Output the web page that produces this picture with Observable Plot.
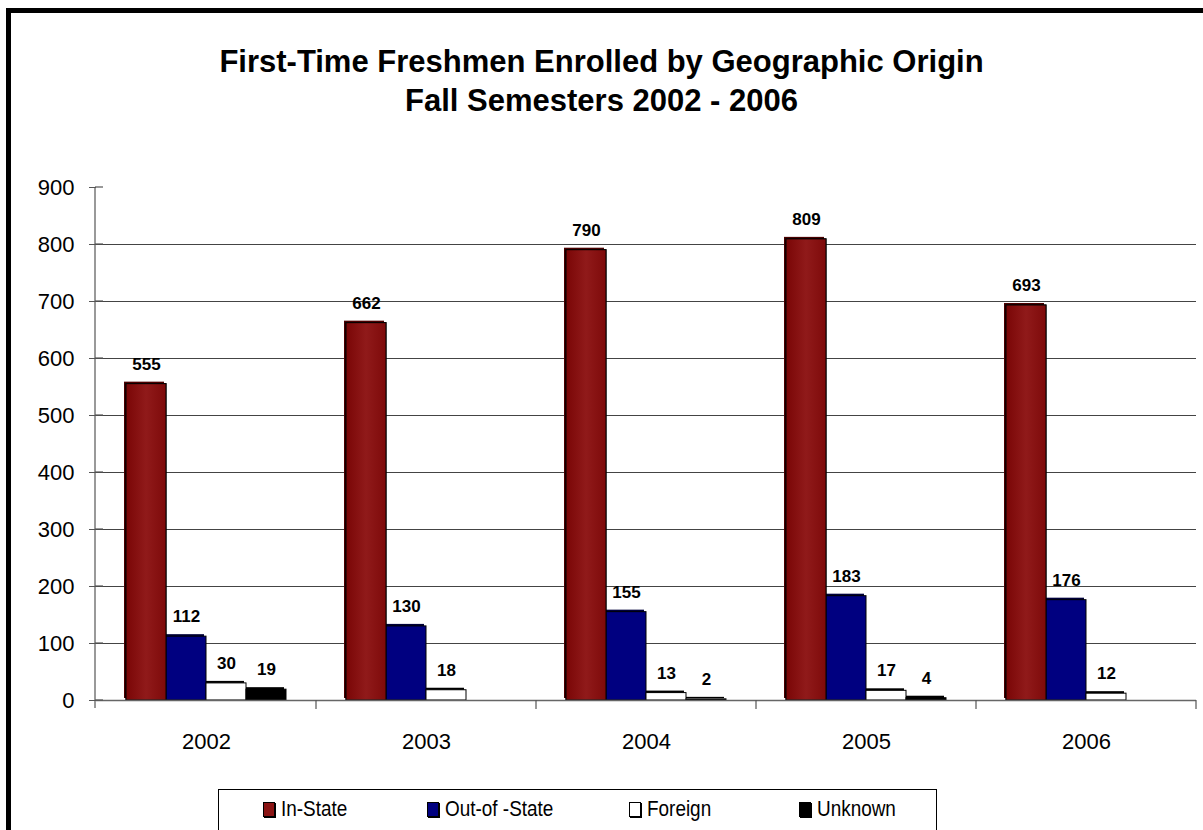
<!DOCTYPE html>
<html><head><meta charset="utf-8">
<script src="https://cdn.jsdelivr.net/npm/d3@7"></script>
<script src="https://cdn.jsdelivr.net/npm/@observablehq/plot@0.6"></script>
<style>
html,body{margin:0;padding:0;background:#fff;overflow:hidden;width:1203px;height:830px;}
#wrap{position:relative;width:1203px;height:830px;font-family:"Liberation Sans",Arial,sans-serif;}
#border{position:absolute;left:6px;top:8px;width:1300px;height:900px;border:5px solid #000;box-sizing:border-box;}
#title{position:absolute;left:0;top:42px;width:1203px;text-align:center;font-weight:bold;font-size:31px;line-height:39px;color:#000;}
#chart{position:absolute;left:0;top:0;}
#legend{position:absolute;left:218px;top:789px;width:719px;height:45px;border:1px solid #000;box-sizing:border-box;background:#fff;font-family:"Liberation Sans",Arial,sans-serif;font-size:22px;}
.li{position:absolute;top:6px;display:flex;align-items:center;white-space:nowrap;}
.sw{width:12px;height:15px;border:1.5px solid #000;margin-right:6px;box-sizing:border-box;display:inline-block;box-shadow:1px 1px 0 #000;}
.lt{display:inline-block;transform:scaleX(0.86);transform-origin:left center;}
</style></head>
<body><div id="wrap">
<div id="border"></div>
<div id="title">First-Time Freshmen Enrolled by Geographic Origin<br>Fall Semesters 2002 - 2006</div>
<div id="chart"></div>
<div id="legend"></div>
</div>
<script>
const years = ["2002","2003","2004","2005","2006"];
const seriesNames = ["In-State","Out-of -State","Foreign","Unknown"];
const inState = [555,662,790,809,693];
const outState = [112,130,155,183,176];
const foreign = [30,18,13,17,12];
const unknown = [19,null,2,4,null];
const colors = ["#8a1414","#000080","#ffffff","#000000"];
const shadows = ["#4a0000","#00003a","#000000","#000000"];
const yTicks = [0,100,200,300,400,500,600,700,800,900];
const gridTicks = [100,200,300,400,500,600,700,800];

const seriesVals = [inState,outState,foreign,unknown];
const data = [];
years.forEach((yr,i)=>seriesNames.forEach((s,j)=>{
  const v = seriesVals[j][i];
  if (v != null) data.push({year:yr, series:s, value:v});
}));

const defs = () => {
  const d = d3.create("svg:defs");
  const g = d.append("linearGradient").attr("id","instate").attr("x1","0").attr("x2","1").attr("y1","0").attr("y2","0");
  g.append("stop").attr("offset","0%").attr("stop-color","#7a0606");
  g.append("stop").attr("offset","50%").attr("stop-color","#901a1a");
  g.append("stop").attr("offset","100%").attr("stop-color","#7e0a0a");
  return d.node();
};

const plot = Plot.plot({
  width: 1203, height: 780,
  marginLeft: 95, marginRight: 7, marginTop: 187, marginBottom: 80,
  style: {fontFamily: "'Liberation Sans', Arial, sans-serif", background: "transparent", overflow: "visible"},
  fx: {domain: years, padding: 0, label: null},
  x: {domain: seriesNames, paddingInner: 0, paddingOuter: 0.7, axis: null},
  y: {domain: [0,900], label: null},
  color: {domain: seriesNames, range: colors},
  marks: [
    defs,
    Plot.ruleY(gridTicks, {stroke: "#444", strokeWidth: 1}),
    Plot.barY(data, {fx:"year", x:"series", y:"value", fill: d => shadows[seriesNames.indexOf(d.series)], dx:-2, dy:-2}),
    Plot.barY(data, {fx:"year", x:"series", y:"value", fill:"series", stroke:"#000", strokeWidth:1}),
    Plot.barY(data.filter(d=>d.series==="In-State"), {fx:"year", x:"series", y:"value", fill:"url(#instate)", stroke:"#000", strokeWidth:1}),
    Plot.text(data, {fx:"year", x:"series", y:"value", text: d => String(d.value), dy:-20, fontWeight:"bold", fontSize:17, fill:"#000"}),
    Plot.ruleY([0], {stroke:"#666", strokeWidth:1.5}),
    Plot.axisY({ticks: yTicks, tickSize: 7, tickPadding: 15, fontSize: 22, stroke:"#555", label:null, tickFormat: d=>String(d)}),
    Plot.axisFx({anchor:"bottom", tickSize:0, tickPadding:33, fontSize:22, label:null})
  ]
});
document.getElementById("chart").appendChild(plot);

// y-axis line, crossing ticks and category boundary ticks using the plot's scales
const svg = d3.select(plot);
const ys = plot.scale("y"), fxs = plot.scale("fx");
const y0 = ys.apply(0), y900 = ys.apply(900);
const x0 = 95;
svg.append("line").attr("x1",x0).attr("x2",x0).attr("y1",y900).attr("y2",y0+8).attr("stroke","#555").attr("stroke-width",1.2);
yTicks.forEach(t=>{
  svg.append("line").attr("x1",x0).attr("x2",x0+8).attr("y1",ys.apply(t)).attr("y2",ys.apply(t)).attr("stroke","#555").attr("stroke-width",1.2);
});
const step = fxs.step ?? (fxs.bandwidth);
years.forEach((yr,i)=>{
  const xb = fxs.apply(yr) + step;
  svg.append("line").attr("x1",xb).attr("x2",xb).attr("y1",y0).attr("y2",y0+9).attr("stroke","#555").attr("stroke-width",1.2);
});

// legend
const leg = document.getElementById("legend");
const legX = [44, 208, 410, 580];
seriesNames.forEach((s,i)=>{
  const d = document.createElement("div");
  d.className = "li"; d.style.left = legX[i]+"px";
  d.innerHTML = `<span class="sw" style="background:${colors[i]}"></span><span class="lt">${s}</span>`;
  leg.appendChild(d);
});
</script>
</body></html>
